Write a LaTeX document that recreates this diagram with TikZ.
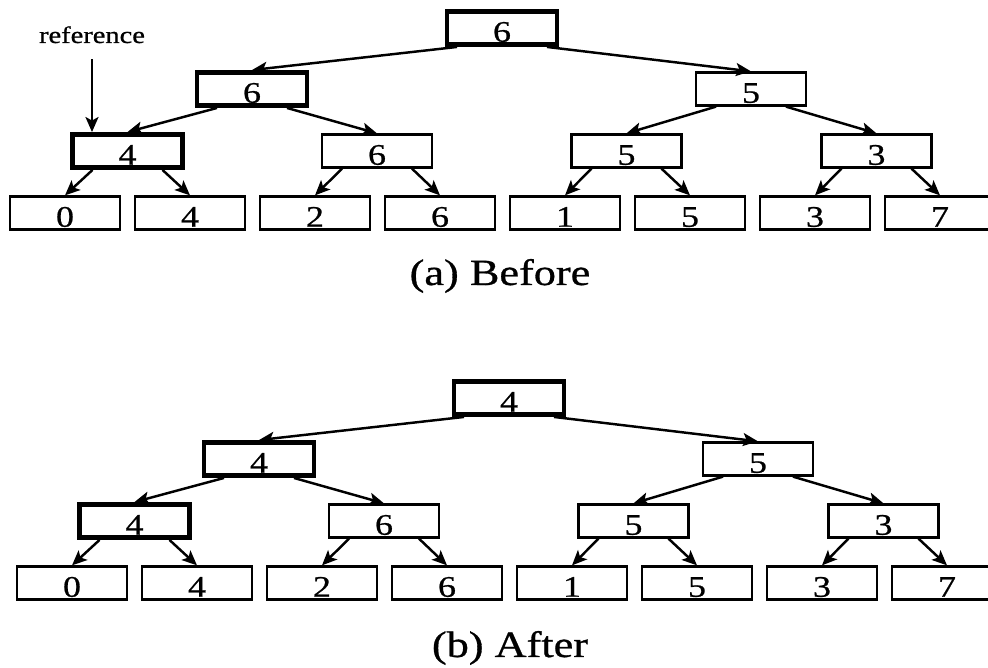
\documentclass[tikz,border=0pt]{standalone}
\usepackage{fontspec}
\setmainfont{Liberation Serif}[FakeStretch=1.2, FakeBold=0.8]
\usetikzlibrary{arrows.meta}

\begin{document}
\begin{tikzpicture}[x=0.02cm, y=-0.02cm,
  cell/.style={draw, line width=1.3pt, minimum width=2.2cm, minimum height=0.66cm,
    text height=0.55cm, text depth=0pt, inner ysep=0.055cm, inner xsep=0pt,
    font=\fontsize{17}{20}\selectfont},
  heavy/.style={cell, line width=2.8pt},
  link/.style={-{Stealth[length=3mm, width=2.6mm, inset=0.7mm]}, line width=1.4pt},
  caption/.style={anchor=base, font=\fontsize{21}{25}\selectfont}
]
  \useasboundingbox (0,0) rectangle (988,668);

  % (a) tree before the update
  \node[heavy] (a1) at (502, 28) {6};
  \node[heavy] (a2) at (252, 89) {6};
  \node[cell] (a3) at (751, 89) {5};
  \node[heavy] (a4) at (127.5, 151) {4};
  \node[cell] (a5) at (377, 151) {6};
  \node[cell] (a6) at (626.5, 151) {5};
  \node[cell] (a7) at (876.5, 151) {3};
  \node[cell] (a8) at (65, 213) {0};
  \node[cell] (a9) at (190, 213) {4};
  \node[cell] (a10) at (315, 213) {2};
  \node[cell] (a11) at (440, 213) {6};
  \node[cell] (a12) at (565, 213) {1};
  \node[cell] (a13) at (690, 213) {5};
  \node[cell] (a14) at (815, 213) {3};
  \node[cell] (a15) at (940, 213) {7};

  \draw[link] ([xshift=-0.9cm]a1.south) -- (a2.north);
  \draw[link] ([xshift=0.9cm]a1.south) -- (a3.north);
  \draw[link] ([xshift=-0.7cm]a2.south) -- (a4.north);
  \draw[link] ([xshift=0.7cm]a2.south) -- (a5.north);
  \draw[link] ([xshift=-0.7cm]a3.south) -- (a6.north);
  \draw[link] ([xshift=0.7cm]a3.south) -- (a7.north);
  \draw[link] ([xshift=-0.7cm]a4.south) -- (a8.north);
  \draw[link] ([xshift=0.7cm]a4.south) -- (a9.north);
  \draw[link] ([xshift=-0.7cm]a5.south) -- (a10.north);
  \draw[link] ([xshift=0.7cm]a5.south) -- (a11.north);
  \draw[link] ([xshift=-0.7cm]a6.south) -- (a12.north);
  \draw[link] ([xshift=0.7cm]a6.south) -- (a13.north);
  \draw[link] ([xshift=-0.7cm]a7.south) -- (a14.north);
  \draw[link] ([xshift=0.7cm]a7.south) -- (a15.north);

  \node[anchor=base, font=\fontsize{13.5}{16}\selectfont] (ref) at (92, 43) {reference};
  \draw[link] ([yshift=-0.2cm]ref.south) -- (ref.south |- a4.north);

  \node[caption] (capa) at (500, 285) {(a) Before};

  % (b) tree after the update
  \node[heavy] (b1) at (509, 398) {4};
  \node[heavy] (b2) at (259, 459) {4};
  \node[cell] (b3) at (758, 459) {5};
  \node[heavy] (b4) at (134.5, 521) {4};
  \node[cell] (b5) at (384, 521) {6};
  \node[cell] (b6) at (633.5, 521) {5};
  \node[cell] (b7) at (883.5, 521) {3};
  \node[cell] (b8) at (72, 583) {0};
  \node[cell] (b9) at (197, 583) {4};
  \node[cell] (b10) at (322, 583) {2};
  \node[cell] (b11) at (447, 583) {6};
  \node[cell] (b12) at (572, 583) {1};
  \node[cell] (b13) at (697, 583) {5};
  \node[cell] (b14) at (822, 583) {3};
  \node[cell] (b15) at (947, 583) {7};

  \draw[link] ([xshift=-0.9cm]b1.south) -- (b2.north);
  \draw[link] ([xshift=0.9cm]b1.south) -- (b3.north);
  \draw[link] ([xshift=-0.7cm]b2.south) -- (b4.north);
  \draw[link] ([xshift=0.7cm]b2.south) -- (b5.north);
  \draw[link] ([xshift=-0.7cm]b3.south) -- (b6.north);
  \draw[link] ([xshift=0.7cm]b3.south) -- (b7.north);
  \draw[link] ([xshift=-0.7cm]b4.south) -- (b8.north);
  \draw[link] ([xshift=0.7cm]b4.south) -- (b9.north);
  \draw[link] ([xshift=-0.7cm]b5.south) -- (b10.north);
  \draw[link] ([xshift=0.7cm]b5.south) -- (b11.north);
  \draw[link] ([xshift=-0.7cm]b6.south) -- (b12.north);
  \draw[link] ([xshift=0.7cm]b6.south) -- (b13.north);
  \draw[link] ([xshift=-0.7cm]b7.south) -- (b14.north);
  \draw[link] ([xshift=0.7cm]b7.south) -- (b15.north);

  \node[caption] (capb) at (510, 657) {(b) After};
\end{tikzpicture}
\end{document}
